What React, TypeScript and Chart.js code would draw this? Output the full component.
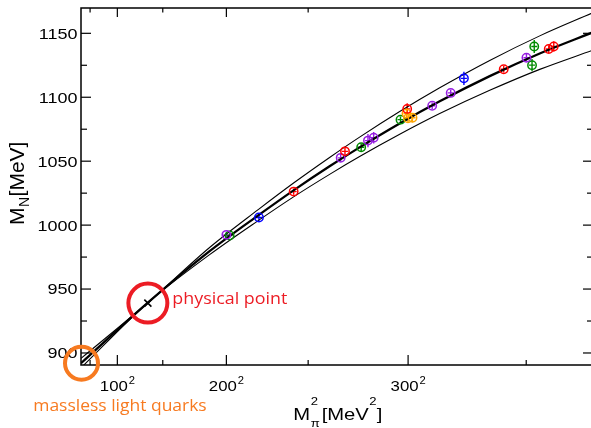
import { useEffect, useRef } from "react";
import { Chart, registerables } from "chart.js";

Chart.register(...registerables);

const CANVAS_W = 600;
const CANVAS_H = 428;

// Chiral fit of the nucleon mass, sampled along M_pi^2 (MeV^2)
const bandMpi2 = [0, 18400, 35390, 48850, 58490, 68400, 76660, 87690, 98700, 112460, 126220, 140600];
const bandCentral = [892.0, 939.3, 979.6, 1007.8, 1027.2, 1046.0, 1060.8, 1079.5, 1096.8, 1116.5, 1134.2, 1150.5];
const bandUpper = [895.8, 939.3, 982.5, 1012.3, 1032.9, 1052.9, 1068.8, 1088.8, 1107.4, 1128.8, 1148.0, 1165.8];
const bandLower = [888.4, 939.3, 976.9, 1003.7, 1022.1, 1039.7, 1053.6, 1071.0, 1087.2, 1105.4, 1121.8, 1136.6];

// Physical point (M_pi^2, M_N)
const physicalMpi2 = 18400;
const physicalMN = 939;

// Lattice ensembles: M_pi^2 [MeV^2], M_N [MeV], error [MeV]
const redMpi2 = [58515, 72630, 89750, 116310, 128700, 130080];
const redMN = [1026.2, 1057.7, 1090.9, 1121.9, 1137.7, 1139.7];
const redErr = [2.5, 3.5, 4.5, 2.5, 3.0, 4.0];

const purpleMpi2 = [40000, 71450, 78960, 80530, 96630, 101720, 122560];
const purpleMN = [992.4, 1052.6, 1066.1, 1068.4, 1093.4, 1103.4, 1130.9];
const purpleErr = [2.0, 3.0, 5.2, 4.5, 2.5, 2.5, 3.0];

const greenMpi2 = [40900, 77090, 87910, 124710, 124100];
const greenMN = [991.9, 1060.9, 1082.5, 1139.7, 1125.1];
const greenErr = [2.0, 3.0, 2.5, 5.0, 4.8];

const blueMpi2 = [48960, 105360];
const blueMN = [1005.9, 1114.8];
const blueErr = [2.5, 5.2];

const orangeMpi2 = [89560, 89970, 91210];
const orangeMN = [1087.3, 1083.6, 1084.0];
const orangeErr = [3.0, 3.0, 3.5];

// Axis ticks
const xMajorTicks = [10000, 40000, 90000];
const xMajorLabels = ["100", "200", "300"];
const xMinorTicks = [2500, 22500, 62500, 122500];
const yMajorTicks = [900, 950, 1000, 1050, 1100, 1150];
const yMinorTicks = [925, 975, 1025, 1075, 1125];

const X_MIN = 0;
const X_MAX = 140600;
const Y_MIN = 890.6;
const Y_MAX = 1169.8;

const SANS = '"Liberation Sans", Arial, Helvetica, sans-serif';
const LABEL_SANS = '"Open Sans", "Noto Sans", sans-serif';
const RED = "rgb(236,28,36)";
const ORANGE = "rgb(247,122,32)";

const pts = (xs: number[], ys: number[]) => xs.map((x, i) => ({ x, y: ys[i] }));

function textWidth(ctx: CanvasRenderingContext2D, text: string, font: string) {
  ctx.save();
  ctx.font = font;
  const w = ctx.measureText(text).width;
  ctx.restore();
  return w;
}

function drawText(
  ctx: CanvasRenderingContext2D,
  text: string,
  x: number,
  y: number,
  font: string,
  sx = 1,
  align: "left" | "right" | "center" = "left"
) {
  ctx.save();
  ctx.font = font;
  const w = ctx.measureText(text).width * sx;
  const x0 = align === "right" ? x - w : align === "center" ? x - w / 2 : x;
  ctx.translate(x0, y);
  ctx.scale(sx, 1);
  ctx.textAlign = "left";
  ctx.textBaseline = "alphabetic";
  ctx.fillText(text, 0, 0);
  ctx.restore();
  return w;
}

const errorBarPlugin = {
  id: "errorBars",
  beforeDatasetsDraw(chart: any) {
    const { ctx, scales } = chart;
    const xs = scales.x;
    const ys = scales.y;
    ctx.save();
    chart.data.datasets.forEach((ds: any) => {
      if (!ds.errors) return;
      ctx.strokeStyle = ds.borderColor;
      ctx.lineWidth = 1.4;
      ds.data.forEach((p: any, i: number) => {
        const px = xs.getPixelForValue(p.x);
        const e = ds.errors[i];
        const top = ys.getPixelForValue(p.y + e);
        const bot = ys.getPixelForValue(p.y - e);
        const py = ys.getPixelForValue(p.y);
        ctx.beginPath();
        ctx.moveTo(px, top);
        ctx.lineTo(px, bot);
        ctx.moveTo(px - 3, py);
        ctx.lineTo(px + 3, py);
        ctx.stroke();
      });
    });
    ctx.restore();
  },
};

const framePlugin = {
  id: "frame",
  afterDraw(chart: any) {
    const { ctx, chartArea: a, scales } = chart;
    const xs = scales.x;
    const ys = scales.y;
    ctx.save();

    // frame
    ctx.strokeStyle = "#000";
    ctx.lineWidth = 1.5;
    ctx.strokeRect(a.left, a.top, a.right - a.left, a.bottom - a.top);

    // inward ticks on all four sides
    ctx.lineWidth = 1.2;
    const seg = (x1: number, y1: number, x2: number, y2: number) => {
      ctx.beginPath();
      ctx.moveTo(x1, y1);
      ctx.lineTo(x2, y2);
      ctx.stroke();
    };
    yMajorTicks.forEach((v) => {
      const py = ys.getPixelForValue(v);
      seg(a.left, py, a.left + 10, py);
      seg(a.right, py, a.right - 9, py);
    });
    yMinorTicks.forEach((v) => {
      const py = ys.getPixelForValue(v);
      seg(a.left, py, a.left + 6, py);
      seg(a.right, py, a.right - 5, py);
    });
    xMajorTicks.forEach((v) => {
      const px = xs.getPixelForValue(v);
      seg(px, a.bottom, px, a.bottom - 10);
      seg(px, a.top, px, a.top + 9);
    });
    xMinorTicks.forEach((v) => {
      const px = xs.getPixelForValue(v);
      seg(px, a.bottom, px, a.bottom - 5);
      seg(px, a.top, px, a.top + 4.5);
    });

    // tick labels
    ctx.fillStyle = "#000";
    const tickFont = `15px ${SANS}`;
    const supFont = `10px ${SANS}`;
    yMajorTicks.forEach((v) => {
      const py = ys.getPixelForValue(v);
      drawText(ctx, String(v), a.left - 3.5, py + 5.4, tickFont, 1.2, "right");
    });
    xMajorTicks.forEach((v, i) => {
      const px = xs.getPixelForValue(v);
      const base = xMajorLabels[i];
      const sx = 1.12;
      const w1 = textWidth(ctx, base, tickFont) * sx;
      const w2 = textWidth(ctx, "2", supFont) * sx;
      const start = px - (w1 + 0.8 + w2) / 2;
      drawText(ctx, base, start, 390.7, tickFont, sx);
      drawText(ctx, "2", start + w1 + 0.8, 384, supFont, sx);
    });

    // x axis title: M_pi^2 [MeV^2]
    const big = `17px ${SANS}`;
    const small = `11px ${SANS}`;
    const wM = textWidth(ctx, "M", big);
    const wS = Math.max(textWidth(ctx, "2", small), textWidth(ctx, "\u03c0", small));
    const wL = textWidth(ctx, "[MeV", big);
    const w2 = textWidth(ctx, "2", small);
    const wR = textWidth(ctx, "]", big);
    const natural = wM + wS + wL + w2 + wR + 3;
    const tsx = 89.5 / natural;
    let cx = 293.3;
    drawText(ctx, "M", cx, 420, big, tsx);
    cx += wM * tsx + 0.5;
    drawText(ctx, "2", cx, 405, small, tsx);
    drawText(ctx, "\u03c0", cx, 426.5, small, tsx);
    cx += wS * tsx + 2;
    drawText(ctx, "[MeV", cx, 420, big, tsx);
    cx += wL * tsx + 0.3;
    drawText(ctx, "2", cx, 405, small, tsx);
    cx += w2 * tsx + 0.3;
    drawText(ctx, "]", cx, 420, big, tsx);

    // y axis title: M_N [MeV]
    ctx.save();
    ctx.translate(23.5, 225);
    ctx.rotate(-Math.PI / 2);
    const yBig = `21px ${SANS}`;
    const ySmall = `14px ${SANS}`;
    let tx = 0;
    tx += drawText(ctx, "M", tx, 0, yBig);
    tx += drawText(ctx, "N", tx + 0.5, 5, ySmall) + 1;
    drawText(ctx, "[MeV]", tx, 0, yBig);
    ctx.restore();

    // annotations: physical point and chiral limit
    const ppx = xs.getPixelForValue(physicalMpi2);
    const ppy = ys.getPixelForValue(physicalMN);
    ctx.strokeStyle = RED;
    ctx.lineWidth = 4;
    ctx.beginPath();
    ctx.arc(ppx, ppy, 19.5, 0, Math.PI * 2);
    ctx.stroke();
    ctx.fillStyle = RED;
    const lblFont = `16px ${LABEL_SANS}`;
    const pw = textWidth(ctx, "physical point", lblFont);
    drawText(ctx, "physical point", ppx + 24.5, ppy + 0.8, lblFont, 115 / pw);

    const cpx = xs.getPixelForValue(bandMpi2[0]);
    const cpy = ys.getPixelForValue(bandCentral[0]);
    ctx.strokeStyle = ORANGE;
    ctx.lineWidth = 4;
    ctx.beginPath();
    ctx.arc(cpx + 0.5, cpy, 16.5, 0, Math.PI * 2);
    ctx.stroke();
    ctx.fillStyle = ORANGE;
    const mw = textWidth(ctx, "massless light quarks", lblFont);
    drawText(ctx, "massless light quarks", cpx - 47.8, cpy + 47.5, lblFont, 173.5 / mw);

    ctx.restore();
  },
};

function ensemble(label: string, color: string, xs: number[], ys: number[], errs: number[], order: number) {
  return {
    label,
    data: pts(xs, ys),
    errors: errs,
    showLine: false,
    borderColor: color,
    backgroundColor: "rgba(0,0,0,0)",
    pointStyle: "circle",
    pointRadius: 4.2,
    pointBorderWidth: 1.5,
    order,
  };
}

export default function App() {
  const canvasRef = useRef<HTMLCanvasElement | null>(null);

  useEffect(() => {
    const canvas = canvasRef.current;
    if (!canvas) return;
    const bandLine = (label: string, ys: number[], width: number) => ({
      label,
      data: pts(bandMpi2, ys),
      borderColor: "#000",
      borderWidth: width,
      pointRadius: 0,
      fill: false,
      cubicInterpolationMode: "monotone",
      order: 20,
    });
    const chart = new Chart(canvas, {
      type: "line",
      data: {
        datasets: [
          {
            label: "physical point",
            data: [{ x: physicalMpi2, y: physicalMN }],
            showLine: false,
            pointStyle: "crossRot",
            pointRadius: 5,
            pointBorderWidth: 1.6,
            borderColor: "#000",
            backgroundColor: "#000",
            order: 0,
          },
          ensemble("red", "rgb(255,0,0)", redMpi2, redMN, redErr, 1),
          ensemble("purple", "rgb(150,30,225)", purpleMpi2, purpleMN, purpleErr, 2),
          ensemble("orange", "rgb(255,165,0)", orangeMpi2, orangeMN, orangeErr, 3),
          ensemble("blue", "rgb(0,0,255)", blueMpi2, blueMN, blueErr, 4),
          ensemble("green", "rgb(0,139,0)", greenMpi2, greenMN, greenErr, 5),
          bandLine("central", bandCentral, 2.3) as any,
          bandLine("upper", bandUpper, 1.1) as any,
          bandLine("lower", bandLower, 1.1) as any,
        ] as any,
      },
      options: {
        responsive: false,
        animation: false,
        devicePixelRatio: 1,
        events: [],
        layout: {
          padding: { left: 81, top: 8, right: CANVAS_W - 592, bottom: CANVAS_H - 365 },
        },
        scales: {
          x: { type: "linear", min: X_MIN, max: X_MAX, display: false },
          y: { type: "linear", min: Y_MIN, max: Y_MAX, display: false },
        },
        plugins: {
          legend: { display: false },
          tooltip: { enabled: false },
        },
      },
      plugins: [errorBarPlugin, framePlugin],
    } as any);
    return () => chart.destroy();
  }, []);

  return (
    <div
      style={{
        position: "fixed",
        left: 0,
        top: 0,
        width: 591,
        height: 428,
        overflow: "hidden",
        background: "#fff",
      }}
    >
      <canvas
        ref={canvasRef}
        width={CANVAS_W}
        height={CANVAS_H}
        style={{ display: "block", width: CANVAS_W, height: CANVAS_H }}
      />
    </div>
  );
}
